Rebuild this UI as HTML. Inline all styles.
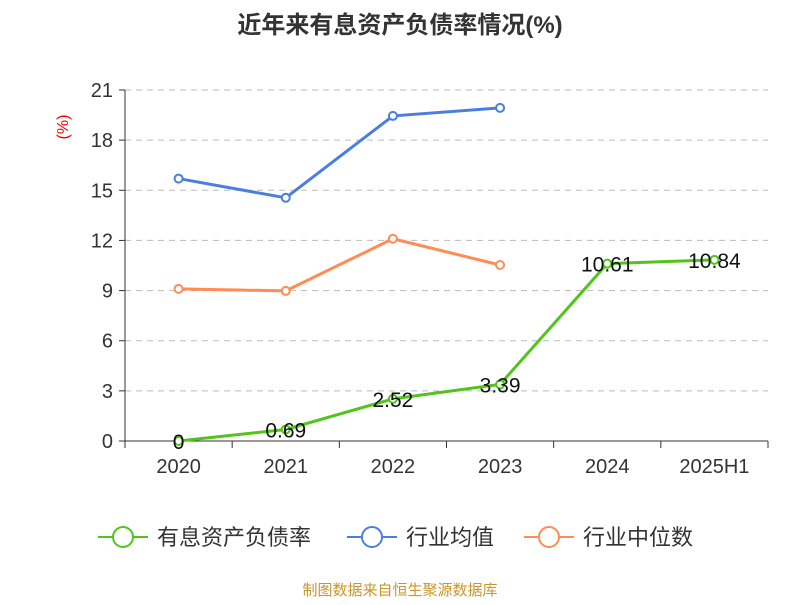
<!DOCTYPE html>
<html><head><meta charset="utf-8">
<style>
body{margin:0;background:#fff;}
svg text{font-family:"Liberation Sans","Noto Sans CJK SC",sans-serif;}
</style></head>
<body>
<svg id="chart" width="800" height="600" xmlns="http://www.w3.org/2000/svg">
<text x="400" y="33" text-anchor="middle" font-size="24" font-weight="bold" fill="#333">近年来有息资产负债率情况(%)</text>
<text x="68" y="127" text-anchor="middle" font-size="16" fill="#e00" transform="rotate(-90 68 127)">(%)</text>
<g id="grid"></g><g id="axes"></g><g id="series"></g>
<g>
 <g><line x1="98" y1="537" x2="148" y2="537" stroke="#52c41a" stroke-width="2"/><circle cx="123" cy="537" r="10" fill="#fff" stroke="#52c41a" stroke-width="2"/><text x="157" y="545" font-size="22" fill="#333">有息资产负债率</text></g>
 <g><line x1="347" y1="537" x2="397" y2="537" stroke="#4a7fe0" stroke-width="2"/><circle cx="372" cy="537" r="10" fill="#fff" stroke="#4a7fe0" stroke-width="2"/><text x="406" y="545" font-size="22" fill="#333">行业均值</text></g>
 <g><line x1="524" y1="537" x2="574" y2="537" stroke="#ff8c55" stroke-width="2"/><circle cx="549" cy="537" r="10" fill="#fff" stroke="#ff8c55" stroke-width="2"/><text x="583" y="545" font-size="22" fill="#333">行业中位数</text></g>
</g>
<text x="400" y="595" text-anchor="middle" font-size="15" fill="#c8962a">制图数据来自恒生聚源数据库</text>
</svg>
<script>
const categories=["2020","2021","2022","2023","2024","2025H1"];
const debtRatio=[0,0.69,2.52,3.39,10.61,10.84];
const debtLabels=["0","0.69","2.52","3.39","10.61","10.84"];
const industryMean=[15.7,14.55,19.45,19.93];
const industryMedian=[9.1,8.98,12.1,10.53];
const yTicks=[0,3,6,9,12,15,18,21];
const NS="http://www.w3.org/2000/svg";
const x0=125,x1=768,y0=441,y1=90,ymax=21;
const bw=(x1-x0)/categories.length;
const xs=i=>x0+bw*(i+0.5);
const ys=v=>y0-(v/ymax)*(y0-y1);
function mk(tag,attrs,parent){const e=document.createElementNS(NS,tag);for(const k in attrs)e.setAttribute(k,attrs[k]);parent.appendChild(e);return e;}
const grid=document.getElementById('grid'),axes=document.getElementById('axes'),ser=document.getElementById('series');
yTicks.forEach(t=>{
 if(t>0){const l=mk('line',{x1:x0,x2:x1,y1:ys(t),y2:ys(t),stroke:'#bbb','stroke-dasharray':'6,5'},grid);
 
 }
 const tk=mk('line',{x1:x0-6,x2:x0,y1:ys(t),y2:ys(t),stroke:'#333'},axes);
 
 
 const tx=mk('text',{x:x0-12,y:ys(t)+7,'text-anchor':'end','font-size':'20',fill:'#333'},axes);tx.textContent=t;
 
 
});
const ya=mk('line',{x1:x0,x2:x0,y1:y1,y2:y0,stroke:'#333'},axes);


const xa=mk('line',{x1:x0,x2:x1,y1:y0,y2:y0,stroke:'#333'},axes);


for(let i=0;i<=categories.length;i++){const t=mk('line',{x1:x0+bw*i,x2:x0+bw*i,y1:y0,y2:y0+7,stroke:'#333'},axes);
 
 }
categories.forEach((c,i)=>{const t=mk('text',{x:xs(i),y:473,'text-anchor':'middle','font-size':'20',fill:'#333'},axes);t.textContent=c;
 
 });
function drawSeries(vals,color,name){
 const g=mk('g',{},ser);
 
 
 const p=mk('polyline',{points:vals.map((v,i)=>xs(i)+','+ys(v)).join(' '),fill:'none',stroke:color,'stroke-width':'3'},g);
 
 
 vals.forEach((v,i)=>{const c=mk('circle',{cx:xs(i),cy:ys(v),r:4,fill:'#fff',stroke:color,'stroke-width':'2'},g);
  
  });
 return g;
}
drawSeries(industryMean,'#4a7fe0','industry-mean');
drawSeries(industryMedian,'#ff8c55','industry-median');
const dg=drawSeries(debtRatio,'#52c41a','debt-ratio');
debtRatio.forEach((v,i)=>{const t=mk('text',{x:xs(i),y:ys(v)+8,'text-anchor':'middle','font-size':'21',fill:'#111'},dg);t.textContent=debtLabels[i];
 
 });
</script>
</body></html>
